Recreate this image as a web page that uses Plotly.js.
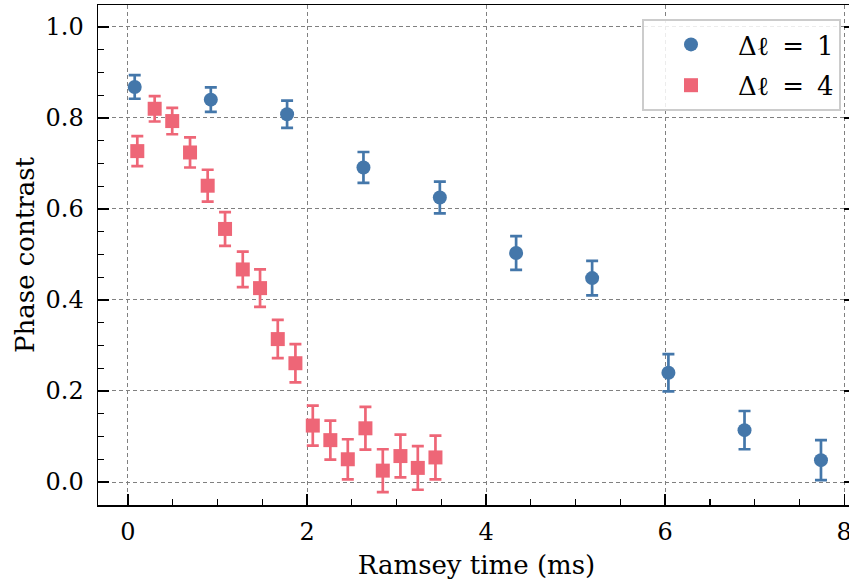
<!DOCTYPE html>
<html>
<head>
<meta charset="utf-8">
<script src="https://cdn.plot.ly/plotly-3.0.1.min.js"></script>
<style>
  html, body { margin: 0; padding: 0; overflow: hidden; background: #fff; }
  #chart { width: 860px; height: 587px; }
</style>
</head>
<body>
<div id="chart"></div>
<script>
// Δℓ = 1 series
const time_l1 = [0.075, 0.925, 1.777, 2.630, 3.483, 4.335, 5.184, 6.036, 6.886, 7.740];
const contrast_l1 = [0.868, 0.840, 0.808, 0.691, 0.625, 0.503, 0.448, 0.240, 0.114, 0.048];
const err_l1 = [0.026, 0.027, 0.030, 0.034, 0.035, 0.037, 0.038, 0.041, 0.042, 0.044];

// Δℓ = 4 series
const time_l4 = [0.104, 0.298, 0.494, 0.693, 0.890, 1.084, 1.282, 1.475, 1.673, 1.870,
                 2.064, 2.260, 2.455, 2.652, 2.846, 3.043, 3.237, 3.434];
const contrast_l4 = [0.727, 0.820, 0.793, 0.724, 0.651, 0.556, 0.467, 0.426, 0.314, 0.261,
                     0.124, 0.092, 0.050, 0.118, 0.025, 0.057, 0.031, 0.054];
const err_l4 = [0.033, 0.028, 0.029, 0.033, 0.035, 0.037, 0.039, 0.041, 0.042, 0.042,
                0.044, 0.043, 0.044, 0.047, 0.047, 0.047, 0.048, 0.048];

const seriesNames = ['Δℓ\u2002=\u20021', 'Δℓ\u2002=\u20024'];
const xTitle = 'Ramsey time (ms)';
const yTitle = 'Phase contrast';

const blue = '#4477AA';
const red = '#EE6677';
const serif = 'DejaVu Serif';

const traces = [
  {
    x: time_l1, y: contrast_l1, name: seriesNames[0], type: 'scatter', mode: 'markers',
    legendgroup: 'g1',
    marker: { symbol: 'circle', size: 14, color: blue },
    error_y: { type: 'data', array: err_l1, visible: true, color: blue, thickness: 2.7, width: 6 }
  },
  {
    x: time_l4, y: contrast_l4, name: seriesNames[1], type: 'scatter', mode: 'markers',
    legendgroup: 'g2',
    marker: { symbol: 'square', size: 14, color: red },
    error_y: { type: 'data', array: err_l4, visible: true, color: red, thickness: 2.7, width: 6 }
  }
];

const axisCommon = {
  showline: true, linecolor: '#000', linewidth: 1.5,
  ticks: 'inside', ticklen: 11, tickwidth: 1.5, tickcolor: '#000',
  showgrid: true, gridcolor: '#808080', gridwidth: 1, griddash: '4px,3px',
  zeroline: false,
  tickfont: { family: serif, size: 24, color: '#000' },
  automargin: false
};

// plot area spans 98..855 px; legend placed relative to it
const layout = {
  width: 860, height: 587,
  margin: { l: 98, r: 5, t: 5, b: 82 },
  paper_bgcolor: '#fff', plot_bgcolor: '#fff',
  font: { family: serif, color: '#000' },
  xaxis: Object.assign({}, axisCommon, {
    mirror: true,
    range: [-0.335, 8.12], dtick: 2, tick0: 0,
    minor: { dtick: 0.5, ticks: 'inside', ticklen: 6, tickwidth: 1.2, tickcolor: '#000', showgrid: false },
    ticklabelstandoff: 5,
    title: { text: xTitle, font: { family: serif, size: 26, color: '#000' }, standoff: 10 }
  }),
  yaxis: Object.assign({}, axisCommon, {
    mirror: 'ticks',
    range: [-0.0505, 1.048], dtick: 0.2, tick0: 0, tickformat: '.1f',
    minor: { dtick: 0.05, ticks: 'inside', ticklen: 6, tickwidth: 1.2, tickcolor: '#000', showgrid: false },
    ticklabelstandoff: 8,
    title: { text: yTitle, font: { family: serif, size: 26, color: '#000' }, standoff: 3 }
  }),
  showlegend: true,
  legend: {
    x: (841 - 98) / 757, xanchor: 'right', y: 0.972, yanchor: 'top',
    bgcolor: 'rgba(255,255,255,0.85)', bordercolor: '#cccccc', borderwidth: 2,
    font: { family: serif, size: 26, color: '#000' },
    itemwidth: 84, tracegroupgap: 4
  }
};

Plotly.newPlot('chart', traces, layout, { displayModeBar: false, staticPlot: true });
</script>
</body>
</html>
